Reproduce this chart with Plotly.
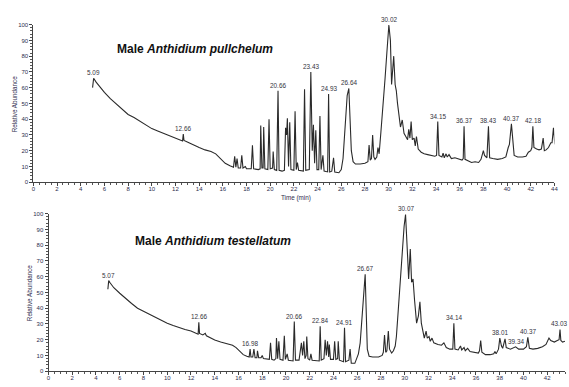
import plotly.graph_objects as go

W, H = 569, 387

# ---------------- Data: Male Anthidium pullchelum (top) ----------------
t_top = [5.00, 5.05, 5.09, 5.3, 5.6, 6.0, 6.5, 7.0, 7.5, 8.0, 8.5, 9.0, 9.5, 10.0, 10.5, 11.0, 11.5, 12.0, 12.5, 12.6,
         12.66, 12.72, 13.0, 13.5, 14.0, 14.5, 15.0, 15.4, 15.8, 16.2, 16.6, 16.9, 17.0, 17.1, 17.2, 17.3, 17.5, 17.6, 17.7, 17.9,
         18.0, 18.4, 18.5, 18.6, 19.0, 19.15, 19.2, 19.3, 19.4, 19.45, 19.55, 19.8, 19.9, 20.0, 20.2, 20.25, 20.35, 20.55, 20.66, 20.75,
         21.0, 21.2, 21.3, 21.38, 21.45, 21.55, 21.65, 21.75, 22.0, 22.1, 22.2, 22.3, 22.4, 22.8, 22.9, 23.0, 23.3, 23.43, 23.55, 23.65,
         23.75, 23.85, 23.95, 24.1, 24.2, 24.3, 24.45, 24.55, 24.85, 24.93, 25.02, 25.2, 25.35, 25.45, 25.8, 26.0, 26.15, 26.3, 26.5, 26.64,
         26.75, 26.85, 27.0, 27.2, 27.6, 28.0, 28.25, 28.35, 28.45, 28.55, 28.65, 28.75, 28.85, 29.0, 29.1, 29.2, 29.35, 29.5, 29.7, 29.85,
         30.02, 30.15, 30.25, 30.35, 30.43, 30.55, 30.65, 30.75, 30.9, 31.0, 31.15, 31.3, 31.45, 31.6, 31.7, 31.8, 31.9, 32.0, 32.15, 32.25,
         32.35, 32.5, 32.75, 33.0, 33.3, 33.6, 33.9, 34.05, 34.15, 34.25, 34.5, 34.6, 34.7, 34.85, 34.95, 35.1, 35.3, 35.6, 35.9, 36.2,
         36.3, 36.37, 36.45, 36.7, 37.0, 37.3, 37.6, 37.8, 38.0, 38.1, 38.3, 38.43, 38.53, 38.8, 39.2, 39.6, 39.9, 40.1, 40.2, 40.37,
         40.5, 40.6, 40.9, 41.3, 41.6, 41.8, 42.0, 42.1, 42.18, 42.27, 42.5, 42.7, 42.9, 43.05, 43.15, 43.3, 43.5, 43.7, 43.8, 43.92,
         44.0, 44.05]
a_top = [60.0, 64.0, 66.0, 63.5, 60.5, 57.0, 53.0, 49.5, 46.0, 43.0, 41.0, 38.5, 36.0, 34.0, 32.5, 31.0, 29.5, 28.0, 26.5, 26.2,
         30.5, 26.5, 25.5, 23.5, 22.0, 20.5, 19.5, 18.0, 15.0, 12.0, 10.5, 9.5, 16.5, 9.5, 15.0, 9.0, 9.0, 17.0, 9.0, 10.0,
         8.5, 8.5, 23.5, 8.5, 8.0, 8.5, 36.0, 9.0, 9.0, 35.0, 8.5, 8.0, 40.0, 8.5, 9.0, 19.5, 8.0, 7.5, 58.0, 7.5,
         7.0, 7.5, 34.5, 30.0, 40.5, 10.0, 38.0, 8.0, 7.5, 45.0, 8.0, 12.5, 7.5, 7.0, 59.0, 7.5, 8.0, 70.0, 20.0, 36.5,
         12.0, 33.0, 8.0, 8.0, 42.0, 8.0, 17.0, 7.0, 6.5, 56.0, 6.5, 7.0, 15.5, 6.5, 6.0, 8.0, 15.0, 35.0, 55.0, 59.5,
         40.0, 20.0, 13.0, 11.5, 11.5, 12.0, 13.0, 23.5, 14.0, 15.0, 30.0, 16.0, 14.5, 16.0, 22.0, 18.0, 32.0, 45.0, 66.0, 82.0,
         99.8, 90.0, 62.0, 72.0, 80.0, 62.0, 58.0, 50.0, 38.0, 35.0, 39.5, 31.0, 29.0, 27.0, 33.5, 28.0, 38.5, 27.0, 28.0, 23.0,
         29.0, 21.0, 19.0, 18.0, 17.5, 17.0, 16.5, 17.0, 38.5, 17.0, 16.0, 18.5, 15.5, 18.0, 16.0, 17.5, 15.0, 15.5, 14.5, 14.0,
         15.0, 35.5, 14.5, 13.5, 12.5, 13.0, 12.5, 14.5, 20.0, 17.0, 15.5, 35.5, 15.5, 15.0, 14.5, 15.0, 16.0, 22.0, 24.0, 37.0,
         22.0, 17.0, 16.0, 16.0, 16.5, 19.0, 20.0, 22.0, 35.5, 22.0, 21.0, 20.5, 21.0, 28.0, 20.0, 20.5, 22.0, 25.0, 25.0, 34.5,
         27.0, 24.0]
lbl_top_t = [5.09, 12.66, 20.66, 23.43, 24.93, 26.64, 30.02, 34.15, 36.37, 38.43, 40.37, 42.18]
lbl_top_a = [66.0, 30.5, 58.0, 70.0, 56.0, 59.5, 99.8, 38.5, 35.5, 35.5, 37.0, 35.5]
lbl_top_txt = ["5.09", "12.66", "20.66", "23.43", "24.93", "26.64", "30.02", "34.15", "36.37", "38.43", "40.37", "42.18"]

# ---------------- Data: Male Anthidium testellatum (bottom) ----------------
t_bot = [5.0, 5.05, 5.07, 5.2, 5.5, 6.0, 6.5, 7.0, 7.5, 8.0, 8.5, 9.0, 9.5, 10.0, 10.5, 11.0, 11.5, 12.0, 12.5, 12.6,
         12.66, 12.72, 13.0, 13.2, 13.3, 13.7, 14.0, 14.5, 15.0, 15.5, 15.8, 16.1, 16.4, 16.7, 16.9, 16.98, 17.05, 17.2, 17.3, 17.4,
         17.55, 17.6, 17.7, 17.9, 18.0, 18.1, 18.6, 18.7, 18.8, 19.0, 19.15, 19.2, 19.3, 19.4, 19.5, 19.75, 19.86, 19.95, 20.1, 20.2,
         20.6, 20.7, 20.8, 21.1, 21.3, 21.4, 21.5, 21.6, 21.7, 21.75, 21.85, 22.0, 22.1, 22.2, 22.8, 22.88, 22.97, 23.2, 23.3, 23.4,
         23.5, 23.6, 23.65, 23.75, 24.0, 24.1, 24.2, 24.35, 24.4, 24.5, 24.85, 24.93, 25.02, 25.3, 25.4, 25.5, 25.8, 25.95, 26.1, 26.25,
         26.4, 26.55, 26.67, 26.75, 26.85, 27.0, 27.3, 27.8, 28.1, 28.2, 28.3, 28.4, 28.5, 28.62, 28.72, 28.9, 29.05, 29.2, 29.3, 29.45,
         29.6, 29.8, 29.95, 30.07, 30.17, 30.25, 30.33, 30.47, 30.58, 30.7, 30.83, 31.0, 31.15, 31.28, 31.4, 31.55, 31.65, 31.8, 31.9, 32.05,
         32.15, 32.3, 32.45, 32.8, 33.1, 33.3, 33.5, 33.8, 34.05, 34.14, 34.23, 34.5, 34.7, 34.8, 35.0, 35.1, 35.3, 35.5, 35.9, 36.2,
         36.3, 36.4, 36.5, 36.8, 37.2, 37.5, 37.6, 37.7, 37.9, 38.01, 38.15, 38.25, 38.45, 38.55, 38.9, 39.34, 39.6, 40.0, 40.25, 40.37,
         40.5, 40.8, 41.2, 41.6, 41.9, 42.05, 42.15, 42.3, 42.6, 42.85, 43.0, 43.08, 43.15, 43.3, 43.5]
a_bot = [52.0, 55.0, 57.5, 56.0, 53.0, 49.5, 46.0, 43.0, 40.0, 38.0, 36.5, 34.5, 32.5, 30.5, 29.0, 27.5, 26.5, 25.5, 23.5, 23.5,
         31.0, 24.0, 23.0, 24.0, 22.5, 21.0, 19.8, 18.5, 17.5, 16.5, 15.0, 13.0, 10.5, 9.5, 9.0, 14.0, 9.0, 9.0, 14.0, 8.5,
         8.5, 13.0, 8.5, 8.5, 10.0, 8.0, 7.5, 18.0, 7.5, 7.0, 8.0, 21.0, 8.0, 19.0, 7.5, 7.0, 22.5, 7.5, 11.0, 7.0,
         6.5, 31.5, 7.0, 7.0, 18.0, 10.0, 19.0, 8.0, 10.0, 22.0, 8.0, 7.0, 11.0, 7.0, 6.5, 28.5, 7.0, 8.0, 20.0, 10.0,
         19.0, 9.0, 17.0, 7.5, 7.5, 19.0, 7.5, 8.0, 19.0, 7.0, 6.0, 27.5, 6.0, 7.0, 14.0, 5.0, 5.0, 8.0, 11.0, 18.0,
         35.0, 51.5, 61.5, 40.0, 14.0, 9.5, 9.0, 9.0, 10.0, 12.0, 23.0, 12.0, 13.0, 25.5, 14.0, 11.5, 13.0, 16.0, 22.0, 38.0,
         55.0, 75.0, 92.0, 99.5, 88.0, 72.0, 58.5, 77.5, 56.5, 58.5, 45.0, 30.5, 35.0, 44.0, 30.5, 24.0, 21.0, 25.5, 21.0, 22.0,
         19.0, 21.0, 18.0, 17.0, 16.5, 18.0, 15.0, 14.0, 14.0, 30.5, 14.0, 13.5, 16.0, 13.5, 15.0, 13.0, 14.5, 12.5, 12.0, 11.5,
         13.0, 19.5, 12.0, 10.5, 10.5, 11.0, 12.5, 11.0, 14.0, 21.0, 16.0, 14.5, 20.5, 15.0, 14.0, 15.5, 14.0, 14.0, 15.5, 21.5,
         14.5, 14.0, 14.5, 15.5, 17.0, 19.0, 21.0, 19.5, 18.5, 19.5, 20.0, 26.5, 19.5, 18.5, 19.0]
lbl_bot_t = [5.07, 12.66, 16.98, 20.66, 22.84, 24.91, 26.67, 30.07, 34.14, 38.01, 39.34, 40.37, 43.03]
lbl_bot_a = [57.5, 31.0, 14.0, 31.5, 28.5, 27.5, 61.5, 99.5, 30.5, 21.0, 15.5, 21.5, 26.5]
lbl_bot_txt = ["5.07", "12.66", "16.98", "20.66", "22.84", "24.91", "26.67", "30.07", "34.14", "38.01", "39.34", "40.37", "43.03"]

top_title = "<b>Male <i>Anthidium pullchelum</i></b>"
bot_title = "<b>Male <i>Anthidium testellatum</i></b>"

# ---------------- Figure ----------------
LINE = "#2a2a2a"
TICKC = "#2e2e4e"
LBLC = "#333340"
FONT = "Liberation Sans, Arial, sans-serif"

fig = go.Figure()
fig.add_trace(go.Scatter(x=t_top, y=a_top, mode="lines", line=dict(color=LINE, width=1.1),
                         xaxis="x", yaxis="y", hoverinfo="skip"))
fig.add_trace(go.Scatter(x=t_bot, y=a_bot, mode="lines", line=dict(color=LINE, width=1.1),
                         xaxis="x2", yaxis="y2", hoverinfo="skip"))

def xax(domain, rng, anchor):
    return dict(domain=domain, range=rng, anchor=anchor, showgrid=False, zeroline=False,
                showline=True, linecolor="#444", linewidth=1,
                ticks="outside", ticklen=3, tickwidth=1, tickcolor="#444",
                ticklabelstandoff=-2,
                tick0=0, dtick=2, tickfont=dict(family=FONT, size=6, color=TICKC),
                minor=dict(ticks="outside", ticklen=2, dtick=0.5, tickcolor="#555", showgrid=False))

def yax(domain, anchor):
    return dict(domain=domain, range=[0, 100], anchor=anchor, showgrid=False, zeroline=False,
                showline=True, linecolor="#444", linewidth=1,
                ticks="outside", ticklen=3, tickwidth=1, tickcolor="#444",
                tick0=0, dtick=10, tickfont=dict(family=FONT, size=6, color=TICKC),
                minor=dict(ticks="outside", ticklen=2, dtick=2, tickcolor="#555", showgrid=False))

top_x0, top_x1 = 31.7 / W, 558.3 / W
top_y0, top_y1 = 1 - 182 / H, 1 - 22 / H
bot_x0, bot_x1 = 47.0 / W, 1.0
bot_y0, bot_y1 = 1 - 374 / H, 1 - 214 / H
bot_xmax = (W - 47.0) / 12.0

annotations = []
for t, a, s in zip(lbl_top_t, lbl_top_a, lbl_top_txt):
    annotations.append(dict(x=t, y=a, xref="x", yref="y", text=s, showarrow=False,
                            xanchor="center", yanchor="bottom", yshift=0,
                            font=dict(family=FONT, size=6.4, color=LBLC)))
for t, a, s in zip(lbl_bot_t, lbl_bot_a, lbl_bot_txt):
    annotations.append(dict(x=t, y=a, xref="x2", yref="y2", text=s, showarrow=False,
                            xanchor="center", yanchor="bottom", yshift=0,
                            font=dict(family=FONT, size=6.4, color=LBLC)))

annotations += [
    dict(x=195 / W, y=1 - 47 / H, xref="paper", yref="paper", text=top_title, showarrow=False,
         xanchor="center", yanchor="middle", font=dict(family=FONT, size=12, color="#111")),
    dict(x=213 / W, y=1 - 242 / H, xref="paper", yref="paper", text=bot_title, showarrow=False,
         xanchor="center", yanchor="middle", font=dict(family=FONT, size=12, color="#111")),
    dict(x=13 / W, y=1 - 102 / H, xref="paper", yref="paper", text="Relative Abundance", showarrow=False,
         textangle=-90, xanchor="center", yanchor="middle", font=dict(family=FONT, size=6.3, color=TICKC)),
    dict(x=28 / W, y=1 - 294 / H, xref="paper", yref="paper", text="Relative Abundance", showarrow=False,
         textangle=-90, xanchor="center", yanchor="middle", font=dict(family=FONT, size=6.3, color=TICKC)),
    dict(x=297 / W, y=1 - 198 / H, xref="paper", yref="paper", text="Time (min)", showarrow=False,
         xanchor="center", yanchor="middle", font=dict(family=FONT, size=6.3, color=TICKC)),
]

fig.update_layout(
    width=W, height=H, autosize=False,
    margin=dict(l=0, r=0, t=0, b=0, pad=0),
    paper_bgcolor="white", plot_bgcolor="white",
    showlegend=False,
    xaxis=xax([top_x0, top_x1], [0, 44], "y"),
    yaxis=yax([top_y0, top_y1], "x"),
    xaxis2=xax([bot_x0, bot_x1], [0, bot_xmax], "y2"),
    yaxis2=yax([bot_y0, bot_y1], "x2"),
    annotations=annotations,
)

fig.write_html("out.html",
               config={"displayModeBar": False, "staticPlot": True},
               post_script="document.body.style.margin='0px';document.body.style.padding='0px';document.body.style.overflow='hidden';")
